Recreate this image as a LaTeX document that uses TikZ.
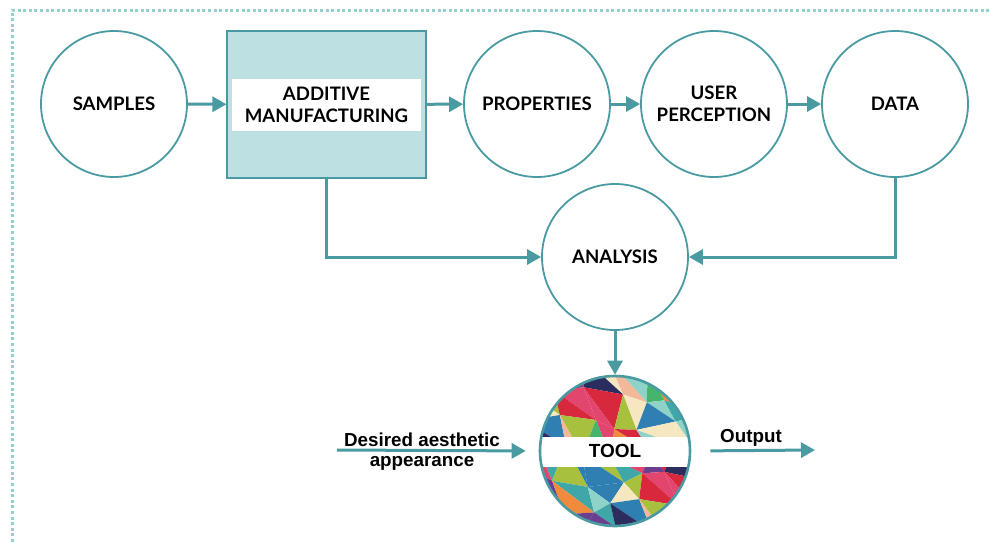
\documentclass[tikz,border=0pt]{standalone}
\usepackage{fontspec}
\setmainfont{Lato}
\newfontfamily\helv{Liberation Sans}
\usetikzlibrary{arrows.meta}

\definecolor{teal1}{HTML}{4A9AA2}
\definecolor{amfill}{HTML}{BDE0E3}
\definecolor{dotcol}{HTML}{92D0CC}
% mosaic colours
\definecolor{c0}{HTML}{E2456E}
\definecolor{c1}{HTML}{2B2D5E}
\definecolor{c2}{HTML}{F6E7C1}
\definecolor{c3}{HTML}{3FA7A8}
\definecolor{c4}{HTML}{F08A3C}
\definecolor{c5}{HTML}{A7C13F}
\definecolor{c6}{HTML}{F2B89A}
\definecolor{c7}{HTML}{D8283E}
\definecolor{c8}{HTML}{6A3F8F}
\definecolor{c9}{HTML}{8FD3C8}
\definecolor{c10}{HTML}{2F7FB3}
\definecolor{c11}{HTML}{46B46B}

\begin{document}
\begin{tikzpicture}[x=1pt,y=1pt,
    main node/.style={circle,draw=teal1,line width=1.8pt,minimum size=146pt,inner sep=0pt,align=center,font=\fontsize{18.6}{22}\selectfont\bfseries},
    am node/.style={rectangle,draw=teal1,line width=1.2pt,fill=amfill,minimum width=199pt,minimum height=147pt},
    band node/.style={fill=white,minimum width=189pt,minimum height=52pt,inner sep=0pt,align=center,font=\fontsize{18.6}{22}\selectfont\bfseries},
    side label/.style={align=center,font=\helv\fontsize{18.8}{21}\selectfont\bfseries},
    link/.style={-{Triangle[length=14pt,width=15pt]},draw=teal1,line width=3pt}]
    \useasboundingbox (0,0) rectangle (989,-542);

    % dotted frame
    \draw[dotcol,line width=3pt,dash pattern=on 3pt off 2.6pt] (12,-542) -- (12,-10) -- (989,-10);

    \node[main node] (1) at (114,-104) {SAMPLES};
    \node[am node] (2) at (326.5,-104.5) {};
    \node[band node] (2b) at (2.center) {ADDITIVE\\MANUFACTURING};
    \node[main node] (3) at (537,-104) {PROPERTIES};
    \node[main node] (4) at (714,-104) {USER\\PERCEPTION};
    \node[main node] (5) at (895,-104) {DATA};
    \node[main node] (6) at (615,-257) {ANALYSIS};

    % tool circle with mosaic
    \begin{scope}
        \clip (615,-450) circle (75);
        \foreach \i in {0,...,6}{
            \foreach \j in {0,...,6}{
                \coordinate (p\i-\j) at ({532+28*\i+8*sin(97*\i+131*\j)},{-367-28*\j-8*cos(71*\i+53*\j)});
            }
        }
        \foreach \i in {0,...,5}{
            \foreach \j in {0,...,5}{
                \pgfmathtruncatemacro\ii{\i+1}
                \pgfmathtruncatemacro\jj{\j+1}
                \pgfmathtruncatemacro\ca{mod(\i*7+\j*5,12)}
                \pgfmathtruncatemacro\cb{mod(\i*5+\j*11+3,12)}
                \fill[c\ca] (p\i-\j) -- (p\ii-\j) -- (p\ii-\jj) -- cycle;
                \fill[c\cb] (p\i-\j) -- (p\i-\jj) -- (p\ii-\jj) -- cycle;
            }
        }
        \fill[white] (540,-437) rectangle (690,-467);
    \end{scope}
    \node[circle,draw=teal1,line width=2.6pt,minimum size=150pt,font=\helv\fontsize{19}{22}\selectfont\bfseries] (7) at (615,-451) {TOOL};

    \coordinate (src) at (337,-450);
    \coordinate (dst) at (815,-450);
    \node[side label] (8) at (422,-452) {Desired aesthetic\\[-1pt]appearance};
    \node[side label] (9) at (751,-438) {Output};

    \draw[link] (1) -- (2);
    \draw[link] (2) -- (3);
    \draw[link] (3) -- (4);
    \draw[link] (4) -- (5);
    \draw[link] (2.south) |- (6.west);
    \draw[link] (5.south) |- (6.east);
    \draw[link] (6) -- (7);
    \draw[link,shorten >=13pt] (src) -- (7.west);
    \draw[link,shorten <=19pt] (7.east) -- (dst);
\end{tikzpicture}
\end{document}
